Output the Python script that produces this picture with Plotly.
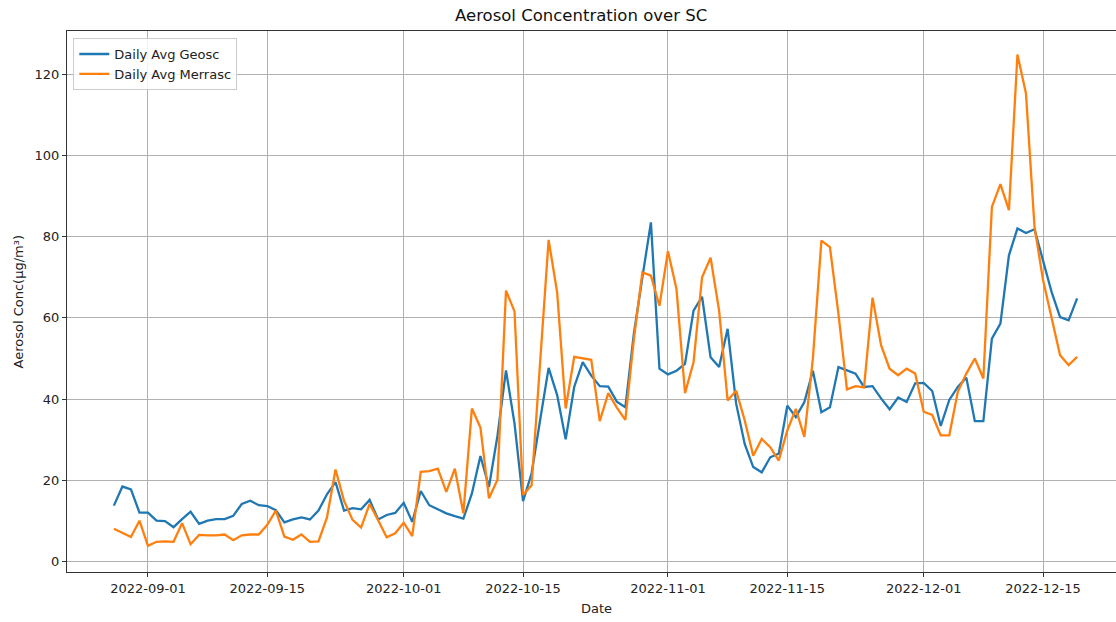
import pandas as pd
import plotly.graph_objects as go

# Daily averages, 2022-08-28 .. 2022-12-19
dates = pd.date_range("2022-08-28", "2022-12-19", freq="D")

geosc = [
    13.8, 18.5, 17.8, 12.1, 12.1, 10.1, 10.0, 8.5, 10.5, 12.3,
    9.3, 10.1, 10.5, 10.5, 11.3, 14.2, 15.0, 13.9, 13.7, 12.7,
    9.7, 10.4, 10.9, 10.4, 12.6, 16.6, 19.6, 12.6, 13.2, 12.9,
    15.2, 10.4, 11.5, 12.0, 14.5, 9.8, 17.4, 13.9, 12.9, 11.9,
    11.2, 10.6, 16.8, 26.0, 18.4, 31.0, 47.1, 34.0, 14.9, 21.7,
    34.8, 47.7, 41.0, 30.1, 43.0, 49.1, 45.8, 43.2, 43.1, 39.4,
    38.0, 56.1, 70.0, 83.5, 47.5, 46.1, 47.0, 48.7, 61.8, 65.2,
    50.3, 47.9, 57.3, 38.9, 29.0, 23.3, 22.0, 25.7, 26.6, 38.4,
    35.6, 39.3, 47.0, 36.8, 38.0, 47.9, 47.1, 46.3, 43.0, 43.2,
    40.2, 37.5, 40.4, 39.3, 43.9, 44.0, 42.0, 33.4, 39.8, 43.0,
    45.3, 34.6, 34.6, 54.9, 58.6, 75.4, 82.0, 80.9, 81.8, 74.0,
    66.4, 60.2, 59.4, 64.8,
]

merrasc = [
    8.1, 7.1, 6.1, 10.1, 3.9, 4.9, 5.0, 4.9, 9.5, 4.3,
    6.6, 6.5, 6.5, 6.7, 5.3, 6.5, 6.7, 6.7, 9.1, 12.6,
    6.2, 5.4, 6.7, 4.9, 5.0, 10.9, 22.7, 15.0, 10.3, 8.4,
    14.2, 10.2, 6.0, 7.0, 9.6, 6.3, 22.1, 22.3, 22.9, 17.2,
    22.9, 11.9, 37.7, 33.0, 15.6, 20.2, 66.7, 61.6, 16.4, 18.8,
    48.0, 79.2, 66.3, 37.7, 50.4, 50.0, 49.7, 34.6, 41.5, 37.9,
    34.9, 54.8, 71.2, 70.4, 63.0, 76.4, 67.1, 41.5, 49.1, 70.0,
    74.8, 61.8, 39.7, 42.1, 34.8, 26.1, 30.2, 28.2, 24.9, 32.3,
    37.6, 30.7, 50.0, 79.0, 77.4, 61.0, 42.4, 43.2, 42.9, 65.0,
    53.3, 47.5, 45.9, 47.5, 46.3, 36.9, 36.1, 31.1, 31.1, 41.8,
    46.3, 50.0, 45.1, 87.3, 92.9, 86.5, 124.8, 115.2, 82.4, 69.3,
    60.2, 50.8, 48.4, 50.4,
]

assert len(geosc) == len(dates) == len(merrasc)

x_ticks = ["2022-09-01", "2022-09-15", "2022-10-01", "2022-10-15",
           "2022-11-01", "2022-11-15", "2022-12-01", "2022-12-15"]
y_ticks = [0, 20, 40, 60, 80, 100, 120]

BLUE = "#1f77b4"
ORANGE = "#ff7f0e"
FONT = "DejaVu Sans"

fig = go.Figure()
fig.add_trace(go.Scatter(x=dates, y=geosc, mode="lines", name="Daily Avg Geosc",
                         line=dict(color=BLUE, width=2.3)))
fig.add_trace(go.Scatter(x=dates, y=merrasc, mode="lines", name="Daily Avg Merrasc",
                         line=dict(color=ORANGE, width=2.3)))

axis_common = dict(
    showgrid=True, gridcolor="#b0b0b0", gridwidth=1,
    showline=True, linecolor="#333333", linewidth=1.3,
    ticks="outside", ticklen=4, tickcolor="#333333", tickwidth=1,
    tickfont=dict(family=FONT, size=13, color="#222222"),
    zeroline=False,
)

fig.update_layout(
    width=1116, height=622,
    margin=dict(l=67, r=0, t=31, b=50),
    paper_bgcolor="white", plot_bgcolor="white",
    font=dict(family=FONT, size=13, color="#222222"),
    showlegend=True,
    legend=dict(
        x=0.006, y=0.987, xanchor="left", yanchor="top",
        bgcolor="rgba(255,255,255,0.85)", bordercolor="#cccccc", borderwidth=1,
        font=dict(family=FONT, size=13, color="#222222"),
        itemwidth=30, tracegroupgap=0,
    ),
    xaxis=dict(
        **axis_common,
        type="date",
        range=["2022-08-22 12:00", "2022-12-23 13:26"],
        tickvals=x_ticks, tickformat="%Y-%m-%d",
        mirror=True,
    ),
    yaxis=dict(
        **axis_common,
        range=[-2.53, 130.6],
        tickvals=y_ticks,
    ),
    annotations=[
        dict(text="Aerosol Concentration over SC", xref="paper", yref="paper",
             x=(581 - 67) / 1049, y=1 + 16 / 541, xanchor="center", yanchor="middle",
             showarrow=False, font=dict(family=FONT, size=16.5, color="#111111")),
        dict(text="Date", xref="paper", yref="paper",
             x=(596 - 67) / 1049, y=-36 / 541, xanchor="center", yanchor="middle",
             showarrow=False, font=dict(family=FONT, size=13, color="#222222")),
        dict(text="Aerosol Conc(μg/m³)", xref="paper", yref="paper",
             x=(18 - 67) / 1049, y=0.5, xanchor="center", yanchor="middle",
             textangle=-90, showarrow=False,
             font=dict(family=FONT, size=13, color="#222222")),
    ],
)

fig.write_html("out.html")
